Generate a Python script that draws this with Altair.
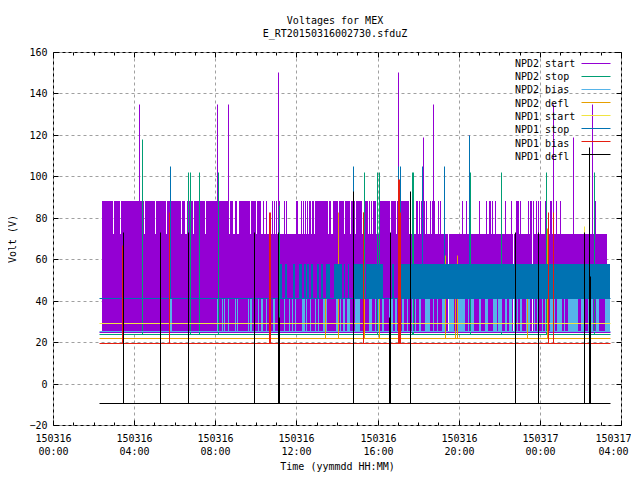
import altair as alt
import pandas as pd

FONT = "DejaVu Sans Mono"
SERIES = ["NPD2 start", "NPD2 stop", "NPD2 bias", "NPD2 defl", "NPD1 start", "NPD1 stop", "NPD1 bias", "NPD1 defl"]
COLORS = ["#9400d3", "#009e73", "#56b4e9", "#e69f00", "#f0e442", "#0072b2", "#e51e10", "#000000"]
BASELINES = [25.0, 24.0, 25.3, 22.0, 29.0, 41.5, 19.6, -9.3]
T_START, T_END = 2.27, 27.46

# NPD2 start: solid band
start_low = [[2.42, 19.47], [19.52, 22.68], [22.73, 23.61], [23.66, 27.31]]
# NPD2 start: excursions up to 88 V
start_high = [[2.42,2.96],[3.01,3.30],[3.35,4.49],[4.54,5.03],[5.08,5.57],[5.62,6.31],[6.36,6.51],[6.61,6.90],[6.95,7.49],
 [7.54,8.68],[8.73,8.87],[8.97,9.07],[9.17,9.71],[9.76,10.01],[10.06,10.25],[10.35,10.40],[10.50,10.55],[10.80,10.85],
 [10.90,10.94],[10.99,11.04],[11.09,11.19],[11.39,11.44],[11.49,11.54],[11.98,12.08],[12.23,12.28],[12.33,12.37],[12.42,12.47],
 [12.52,12.57],[12.62,12.72],[12.77,12.87],[12.92,13.56],[13.61,13.71],[13.80,14.05],[14.10,14.35],[14.40,14.64],[14.69,14.89],
 [14.94,15.23],[15.38,15.53],[15.58,15.63],[15.68,15.73],[15.78,15.92],[16.12,16.61],[16.66,16.91],[16.96,17.55],[17.90,17.99],
 [18.04,18.09],[18.14,18.34],[18.39,18.44],[18.59,18.64],[18.68,18.83],[18.98,19.03],[19.08,19.13],[20.16,20.21],[20.36,20.41],
 [21.00,21.05],[21.35,21.40],[21.49,21.59],[21.64,21.69],[21.79,21.84],[22.28,22.33],[22.58,22.63],[22.83,22.97],[23.02,23.07],
 [23.42,23.47],[23.52,23.61],[23.66,23.71],[23.81,23.86],[23.91,23.96],[24.01,24.06],[24.26,24.30],[24.50,24.60],[24.80,24.85],
 [25.00,25.04],[26.72,26.77]]
# NPD2 bias: excursions up to 41 V
bias_high = [[5.77,5.87],[8.09,8.13],[8.33,8.38],[8.43,8.48],[8.63,8.68],[8.97,9.02],[9.07,9.12],[9.61,9.66],[9.71,9.81],[10.11,10.16],
 [10.25,10.35],[10.50,10.55],[10.65,10.70],[10.85,10.94],[11.39,11.44],[11.63,11.68],[11.78,11.83],[11.93,11.98],[12.28,12.42],
 [12.47,12.52],[12.67,12.72],[12.92,12.97],[13.06,13.11],[13.31,13.51],[13.95,14.10],[14.15,14.20],[14.30,14.40],[14.49,14.64],
 [14.89,15.14],[15.33,15.38],[15.58,15.73],[15.87,15.92],[16.02,16.07],[16.22,16.32],[16.56,16.76],[16.86,16.96],[17.06,17.11],
 [17.21,17.30],[17.45,17.50],[17.70,17.75],[17.85,17.90],[18.04,18.14],[18.34,18.59],[18.73,18.78],[18.93,18.98],[19.18,19.33],
 [19.52,19.77],[19.97,20.31],[20.46,20.51],[20.61,20.76],[21.00,21.10],[21.30,21.45],[21.69,21.89],[21.94,22.14],[22.28,22.38],
 [22.48,22.63],[22.73,22.78],[22.88,22.92],[23.02,23.12],[23.32,23.52],[23.71,23.76],[23.86,23.91],[24.11,24.16],[24.26,24.30],
 [24.50,24.75],[24.85,25.09],[25.19,25.24],[25.39,25.88],[26.03,26.18],[26.38,26.62],[26.77,26.92],[27.21,27.46]]
# NPD1 stop: excursions up to 57.5 V
stop_high = [[11.19,11.29],[11.44,11.54],[11.83,11.93],[12.13,12.28],[12.37,12.47],[12.52,12.62],[12.72,12.82],[13.02,13.11],
 [13.21,13.31],[13.46,13.66],[13.85,14.25],[14.35,14.40],[14.54,14.59],[14.79,15.33],[15.43,16.27],[16.71,16.81],[17.11,27.46]]

# single-sample spikes: [time in hours, volts]
spikes = {
 "NPD2 start": [[4.24,135],[8.09,135],[8.63,135],[11.09,150.5],[17.01,150.5],[18.24,119],[18.73,135],[20.51,120],[24.65,135],[25.64,119],[26.57,135]],
 "NPD2 stop": [[4.39,118],[6.66,102],[6.75,102],[7.20,102],[8.13,102],[11.14,86],[15.33,102],[15.97,102],[16.07,102],[17.70,102],[17.75,102],[20.56,102],[22.09,102],[24.30,102],[26.67,102]],
 "NPD2 bias": [],
 "NPD2 defl": [[13.41,41.5],[14.05,83],[15.28,83],[15.33,41.5],[16.07,41.5],[17.06,91],[19.33,62],[19.82,41.5],[19.92,62],[23.37,41.5],[24.35,75]],
 "NPD1 start": [[17.06,91],[24.40,76],[26.18,76]],
 "NPD1 stop": [[5.77,105],[14.79,105],[17.01,105],[17.11,105],[18.19,105],[19.28,105],[20.51,120]],
 "NPD1 bias": [[3.40,67],[3.45,67],[5.72,83],[10.65,83],[10.70,83],[15.28,83],[17.01,98.5],[17.06,98.5],[17.11,83],[24.40,83],[24.65,83]],
 "NPD1 defl": [[3.45,73],[5.28,73],[6.66,73],[9.91,73],[11.09,73],[11.14,32],[14.79,93],[16.56,32],[16.61,73],[17.60,93],[22.78,73],[23.91,73],[26.18,73],[26.42,114],[26.47,52]],
}
columns = {
 "NPD2 start": [(start_low, 25, 72), (start_high, 72, 88)],
 "NPD2 bias": [(bias_high, 25, 41)],
 "NPD1 stop": [(stop_high, 41, 57.5)],
}

x_major = [0, 4, 8, 12, 16, 20, 24, 28]
x_minor = [h for h in range(29) if h % 4]
y_major = [-20, 0, 20, 40, 60, 80, 100, 120, 140, 160]
x_day = {0: "150316", 4: "150316", 8: "150316", 12: "150316", 16: "150316", 20: "150316", 24: "150317", 28: "150317"}
x_time = {0: "00:00", 4: "04:00", 8: "08:00", 12: "12:00", 16: "16:00", 20: "20:00", 24: "00:00", 28: "04:00"}

W, H = 568, 373
x_scale = alt.Scale(domain=[0, 28], nice=False, zero=False, round=True)
y_scale = alt.Scale(domain=[-20, 160], nice=False, zero=False, round=True)
color = alt.Color("series:N", scale=alt.Scale(domain=SERIES, range=COLORS),
    legend=alt.Legend(title=None, orient="none", legendX=461, legendY=6, symbolType="stroke", symbolSize=841,
        symbolStrokeWidth=1, symbolOffset=63, labelOffset={"expr": "-92"}, labelFont=FONT, labelFontSize=10, labelColor="black",
        rowPadding=1.3, clipHeight=11.7, labelLimit=120, symbolOpacity=1, padding=0))

label_expr = ("[{" + ",".join(f"'{k}':'{v}'" for k, v in x_day.items()) + "}[datum.value],{"
              + ",".join(f"'{k}':'{v}'" for k, v in x_time.items()) + "}[datum.value]]")
x_axis = alt.Axis(title="Time (yymmdd HH:MM)", values=x_major, labelExpr=label_expr, grid=True, gridDash=[3, 3], gridColor="#a0a0a0",
                  gridOpacity=1, ticks=False, domain=False, labelFont=FONT, labelFontSize=10, labelColor="black", labelPadding=8,
                  labelLineHeight=13, labelAngle=0, labelFlush=False, labelBound=False, labelOverlap=False,
                  labelOffset={"expr": "datum.value == 28 ? -8 : 0"},
                  titleFont=FONT, titleFontSize=10, titleFontWeight="normal", titleColor="black", titlePadding=5)
y_axis = alt.Axis(title="Volt (V)", values=y_major, grid=True, gridDash=[3, 3], gridColor="#a0a0a0", gridOpacity=1, ticks=False, domain=False,
                  labelFont=FONT, labelFontSize=10, labelColor="black", labelPadding=6, titleFont=FONT, titleFontSize=10,
                  titleFontWeight="normal", titleColor="black", titlePadding=11)

X = alt.X("x:Q", scale=x_scale, axis=x_axis)
Y = alt.Y("y:Q", scale=y_scale, axis=y_axis)
RULE = dict(strokeWidth=1, xOffset=0.5, x2Offset=0.5, yOffset=0.5, y2Offset=0.5)
layers = []
for name in SERIES:
    base = BASELINES[SERIES.index(name)]
    for spans, lo, hi in columns.get(name, []):
        d = pd.DataFrame([{"x": a, "x2": b, "y": lo, "y2": hi, "series": name} for a, b in spans])
        layers.append(alt.Chart(d).mark_rect(strokeWidth=0).encode(x=X, x2="x2:Q", y=Y, y2="y2:Q", color=color))
    if spikes[name]:
        d = pd.DataFrame([{"x": t, "y": base, "y2": v, "series": name} for t, v in spikes[name]])
        layers.append(alt.Chart(d).mark_rule(**RULE).encode(x=X, y=Y, y2="y2:Q", color=color))
    d = pd.DataFrame([{"x": T_START, "x2": T_END, "y": base, "series": name}])
    layers.append(alt.Chart(d).mark_rule(**RULE).encode(x=X, x2="x2:Q", y=Y, color=color))

# inward ticks on all four sides, as the reference has them
def xt(vals, y0, y1):
    return alt.Chart(pd.DataFrame({"x": vals})).mark_rule(color="black", **RULE).encode(
        x=X, y=alt.value(y0), y2=alt.value(y1))
def yt(x0, x1):
    return alt.Chart(pd.DataFrame({"y": y_major})).mark_rule(color="black", **RULE).encode(
        y=Y, x=alt.value(x0), x2=alt.value(x1))
layers += [xt(x_major, H, H - 5), xt(x_major, 0, 5), xt(x_minor, H, H - 3), xt(x_minor, 0, 3), yt(0, 5), yt(W, W - 5)]

# legend key lines, to the right of the legend's labels
for i, name in enumerate(SERIES):
    d = pd.DataFrame([{"series": name}])
    layers.append(alt.Chart(d).mark_rule(**RULE).encode(
        x=alt.value(528), x2=alt.value(557), y=alt.value(11 + 13 * i), color=color))

chart = alt.layer(*layers).properties(
    width=W, height=H,
    title=alt.Title(["Voltages for MEX", "E_RT20150316002730.sfduZ"], font=FONT, fontSize=10, fontWeight="normal",
                    color="black", anchor="middle", offset=8, lineHeight=13, dx=-2),
    autosize=alt.AutoSizeParams(type="none"),
    padding={"left": 45, "top": 44, "right": 10, "bottom": 47},
    background="white",
).configure_view(stroke="black", strokeWidth=1)

chart.save("out.html", embed_options={"renderer": "svg", "actions": False})
